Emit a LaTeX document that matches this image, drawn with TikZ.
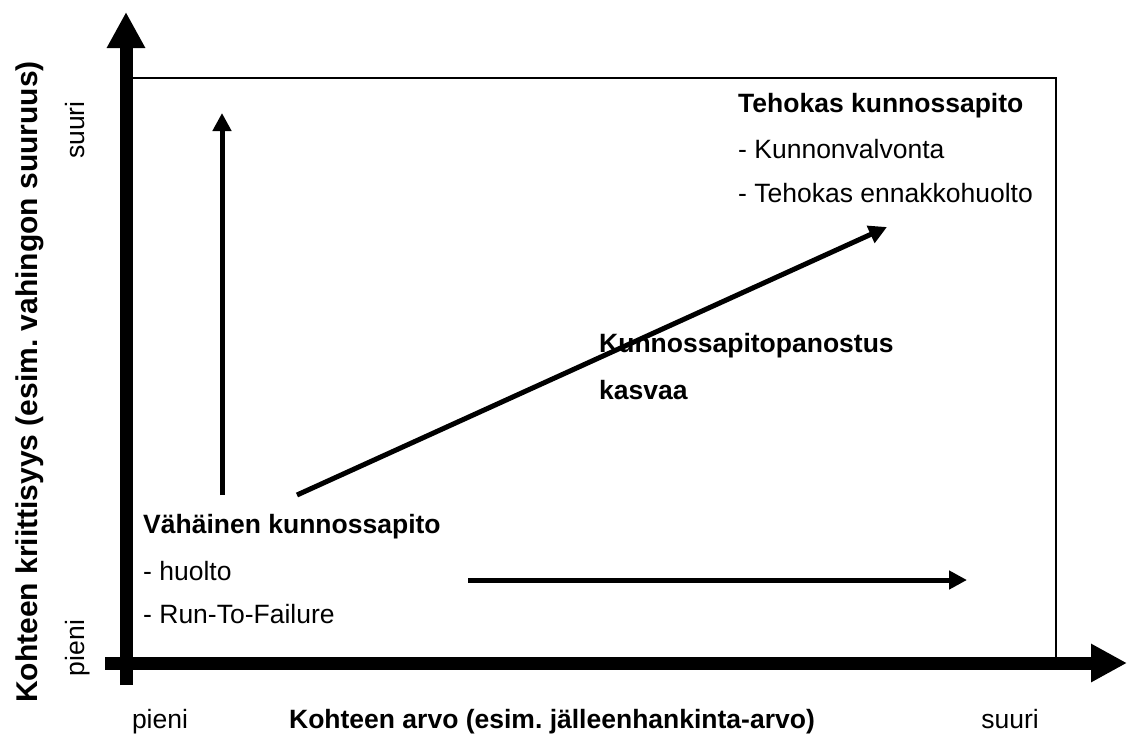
\documentclass[tikz,border=0pt]{standalone}
\usepackage{fontspec}
\setmainfont{Liberation Sans}
\usetikzlibrary{arrows.meta}
\frenchspacing

\begin{document}
\begin{tikzpicture}[x=1pt,y=-1pt,
  axis/.style={line width=13pt,-{Triangle[length=36pt,width=36pt]}},
  trend/.style={line width=5pt,-{Triangle[length=18pt,width=18pt]}},
  txt/.style={font=\fontsize{26.5}{45}\selectfont,inner sep=0pt}]
\useasboundingbox (0,0) rectangle (1129,740);
%draw frame:
\draw [line width=2pt] (126,78) rectangle (1056,663);
%draw axes:
\coordinate (xstart) at (105,663);
\coordinate (xend) at (1127,663);
\coordinate (ystart) at (126,685);
\coordinate (yend) at (126,12);
\draw [axis] (xstart) -- (xend);
\draw [axis] (ystart) -- (yend);
%draw arrows:
\coordinate (upstart) at (222,495);
\coordinate (upend) at (222,113);
\coordinate (risestart) at (297,495);
\coordinate (riseend) at (887,227);
\coordinate (rightstart) at (468,580);
\coordinate (rightend) at (967,580);
\draw [trend] (upstart) -- (upend);
\draw [trend] (risestart) -- (riseend);
\draw [trend] (rightstart) -- (rightend);
%draw labels:
\node [txt,anchor=base west] (high) at (738,112) {\textbf{Tehokas kunnossapito}};
\node [txt,anchor=base west] (high1) at ([yshift=-46pt]high.base west) {- Kunnonvalvonta};
\node [txt,anchor=base west] (high2) at ([yshift=-44pt]high1.base west) {- Tehokas ennakkohuolto};
\node [txt,anchor=base west] (effort) at (599,352) {\textbf{Kunnossapitopanostus}};
\node [txt,anchor=base west] (effort1) at ([yshift=-47pt]effort.base west) {\textbf{kasvaa}};
\node [txt,anchor=base west] (low) at (143,533) {\textbf{Vähäinen kunnossapito}};
\node [txt,anchor=base west] (low1) at ([yshift=-47pt]low.base west) {- huolto};
\node [txt,anchor=base west] (low2) at ([yshift=-43pt]low1.base west) {- Run-To-Failure};
%draw axis labels:
\node [txt,anchor=base] (xlabel) at (552,728) {\textbf{Kohteen arvo (esim. jälleenhankinta-arvo)}};
\node [txt,anchor=base] (xlow) at (160,728) {pieni};
\node [txt,anchor=base] (xhigh) at (1010,728) {suuri};
\node [txt,anchor=base,rotate=90,font=\fontsize{30}{36}\selectfont] (ylabel) at (37,382) {\textbf{Kohteen kriittisyys (esim. vahingon suuruus)}};
\node [txt,anchor=base,rotate=90] (ylow) at (84,648) {pieni};
\node [txt,anchor=base,rotate=90] (yhigh) at (84,130) {suuri};
\end{tikzpicture}
\end{document}
